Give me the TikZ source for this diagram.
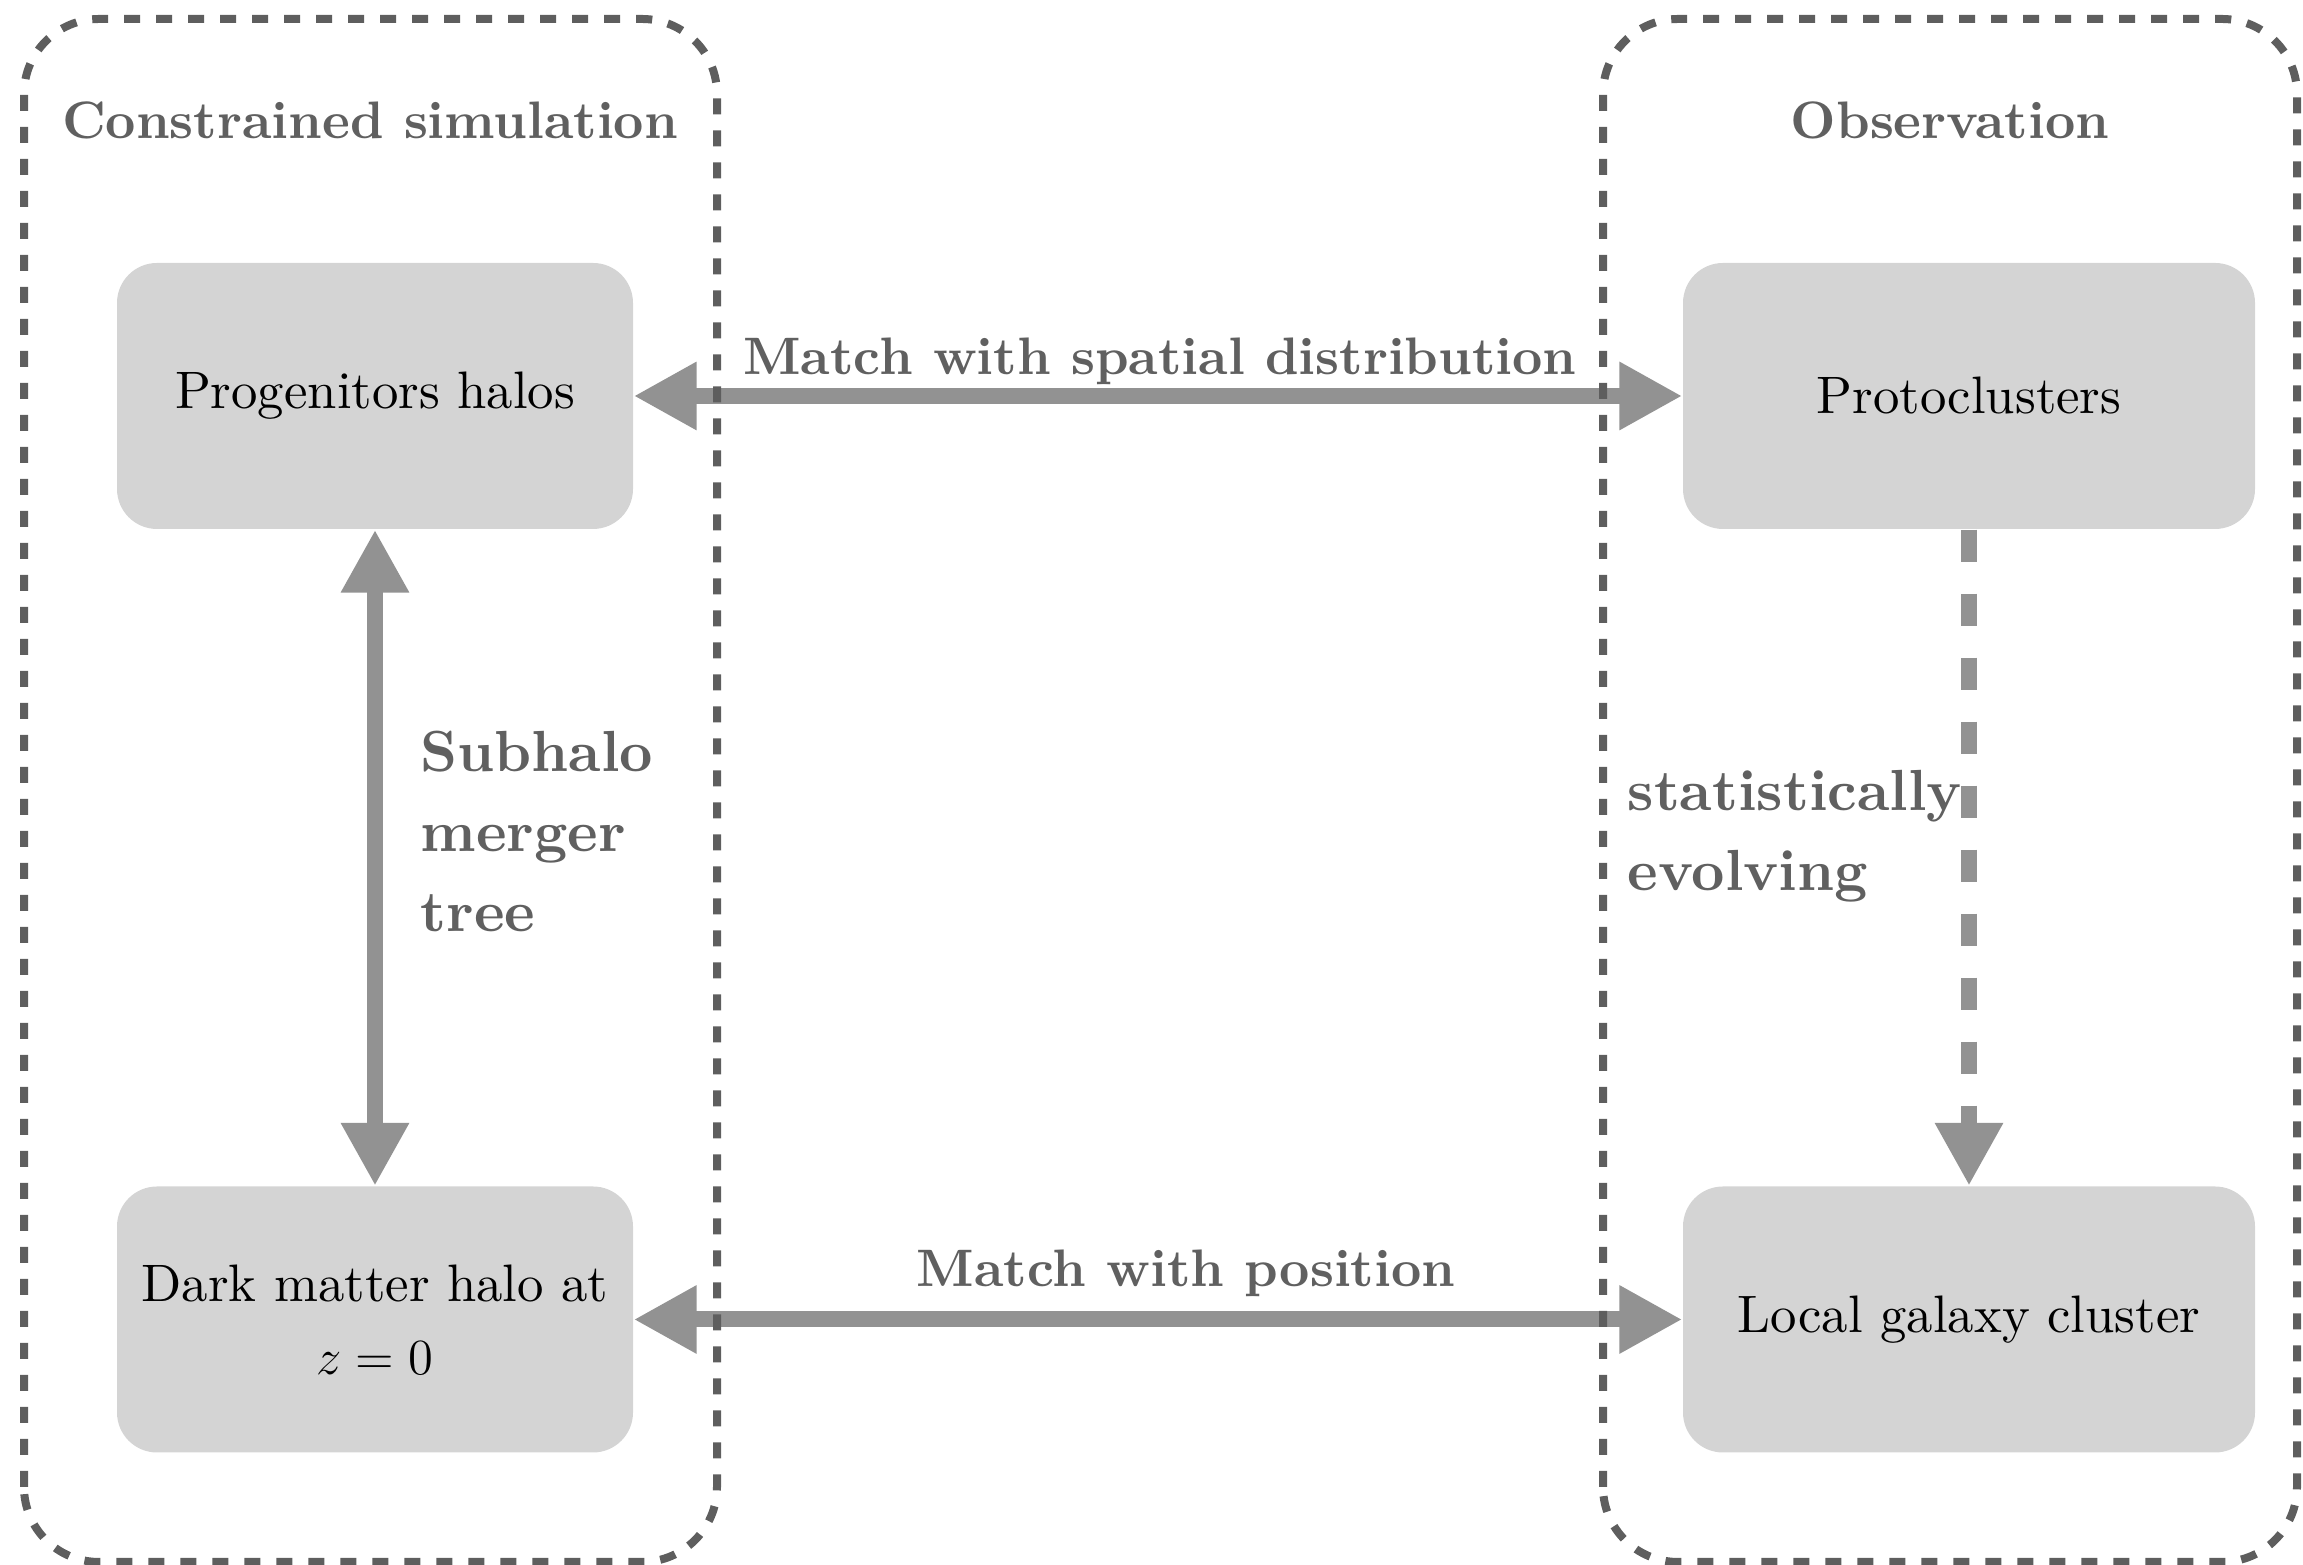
\documentclass[tikz,border=0pt]{standalone}
\usepackage{fontspec}
\setmainfont{lmroman10-regular}[Extension=.otf, BoldFont=lmroman10-bold, ItalicFont=lmroman10-italic]
\usepackage{xcolor}
\usepackage{tikz}
\usetikzlibrary{arrows.meta, positioning, calc}
\definecolor{boxgray}{RGB}{212,212,212}
\definecolor{arrowgray}{RGB}{146,146,146}
\definecolor{textgray}{RGB}{96,96,96}
\definecolor{framegray}{RGB}{94,94,94}

\begin{document}
\begin{tikzpicture}[
    block/.style={rectangle, rounded corners=0.4cm, fill=boxgray, minimum width=5.16cm, minimum height=2.66cm, align=center, font=\fontsize{15}{20.7}\selectfont},
    groupbox/.style={draw=framegray, line width=0.08cm, dash pattern=on 0.16cm off 0.16cm, rounded corners=0.75cm},
    heading/.style={font=\fontsize{15}{18}\selectfont\bfseries, text=textgray, anchor=base, inner sep=0pt},
    sidenote/.style={font=\fontsize{16.5}{22.8}\selectfont\bfseries, text=textgray, align=left, anchor=base west, inner sep=0pt},
    twoway/.style={{Triangle[length=0.63cm,width=0.64cm]}-{Triangle[length=0.63cm,width=0.64cm]}, line width=0.16cm, draw=arrowgray},
    oneway/.style={-{Triangle[length=0.63cm,width=0.64cm]}, line width=0.16cm, draw=arrowgray}
]
\useasboundingbox (0,0) rectangle (23.03,15.65);

\node[block] (prog) at (3.75,11.69) {Progenitors halos};
\node[block] (dmh) at (3.75,2.455) {Dark matter halo at\\$z=0$};
\node[block, minimum width=5.72cm] (proto) at (19.69,11.69) {Protoclusters};
\node[block, minimum width=5.72cm] (lgc) at (19.69,2.455) {Local galaxy cluster};

\draw[twoway] (prog) -- (proto);
\draw[twoway] (prog) -- (dmh);
\draw[twoway] (dmh) -- (lgc);
\draw[oneway, dash pattern=on 0.32cm off 0.32cm] (proto) -- (lgc);

% dashed group frames
\draw[groupbox] (0.24,0.03) rectangle (7.17,15.46);
\draw[groupbox] (16.03,0.03) rectangle (22.97,15.46);

\node[heading] (simtitle) at (3.70,14.26) {Constrained simulation};
\node[heading] (obstitle) at (19.50,14.26) {Observation};
\node[heading] (spatial) at (11.60,11.90) {Match with spatial distribution};
\node[heading] (position) at (11.86,2.78) {Match with position};
\node[sidenote] (tree) at (4.20,6.33) {Subhalo\\merger\\tree};
\node[sidenote] (evolve) at (16.27,6.74) {statistically\\evolving};
\end{tikzpicture}
\end{document}
